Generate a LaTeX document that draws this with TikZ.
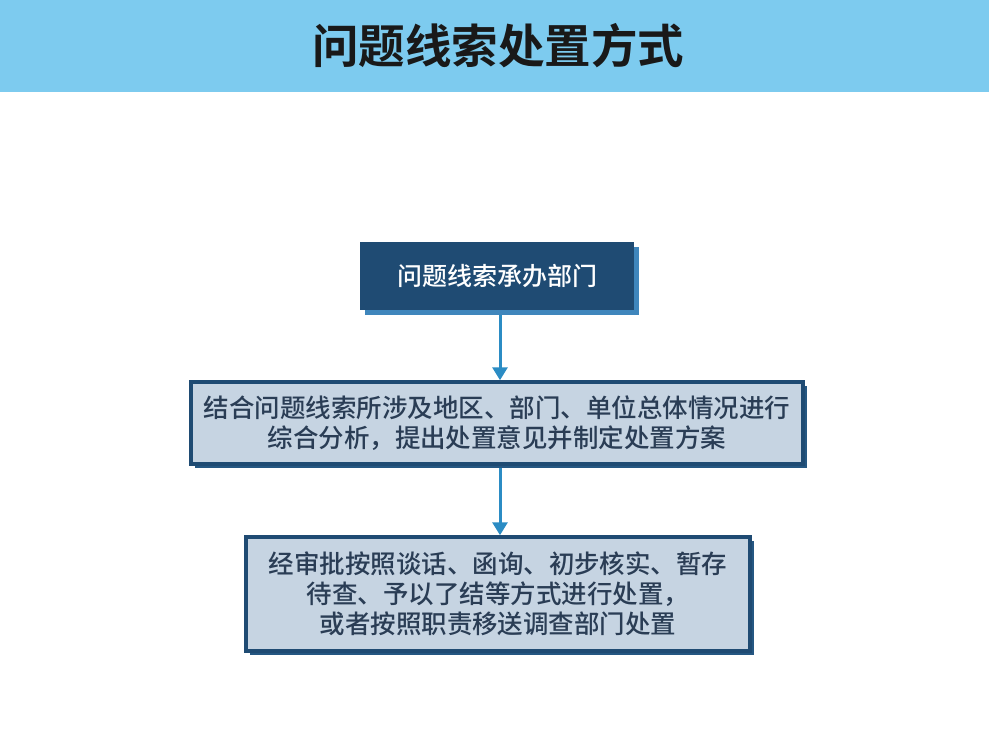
\documentclass[tikz,border=0pt]{standalone}
\usepackage{fontspec}
\setmainfont{Noto Sans CJK SC Medium}
\newfontfamily\cjkbold{Noto Sans CJK SC Bold}
\usetikzlibrary{arrows.meta,shadows}
\definecolor{band}{HTML}{7DCBEF}
\definecolor{darkbox}{HTML}{1F4B73}
\definecolor{lightbox}{HTML}{C6D4E2}
\definecolor{arrowc}{HTML}{2B8CC4}
\definecolor{shadowc}{HTML}{3F86BC}
\definecolor{textc}{HTML}{2A3D55}
\tikzset{
  darknode/.style={draw=none, fill=darkbox, text=white, font=\fontsize{25}{30}\selectfont,
    drop shadow={shadow xshift=5pt, shadow yshift=-5pt, fill=shadowc, opacity=1}},
  lightnode/.style={draw=darkbox, line width=3.5pt, fill=lightbox, text=textc, align=center,
    font=\fontsize{25.5}{30}\selectfont,
    drop shadow={shadow xshift=4pt, shadow yshift=-4pt, fill=darkbox!80!shadowc, opacity=1}},
  flow/.style={draw=arrowc, line width=3pt, -{Triangle[length=13pt,width=15pt]}}
}
\begin{document}
\begin{tikzpicture}[x=1pt,y=-1pt]
\useasboundingbox (0,0) rectangle (989,731);
\fill[white] (0,0) rectangle (989,731);
\fill[band] (0,0) rectangle (989,92);
\node[font=\cjkbold\fontsize{46.5}{52}\selectfont, text=black!90] (title) at (498,46) {问题线索处置方式};
\node[darknode, minimum width=274pt, minimum height=68pt] (b1) at (497,276) {问题线索承办部门};
\node[lightnode, minimum width=612pt, minimum height=82pt] (b2) at (497,423) {结合问题线索所涉及地区、部门、单位总体情况进行\\综合分析，提出处置意见并制定处置方案};
\node[lightnode, minimum width=504pt, minimum height=114pt] (b3) at (498,594) {经审批按照谈话、函询、初步核实、暂存\\待查、予以了结等方式进行处置，\\或者按照职责移送调查部门处置};
\draw[flow] ([yshift=-5pt]b1.south -| 500,0) -- (b2.north -| 500,0);
\draw[flow] ([yshift=-2pt]b2.south -| 500,0) -- (b3.north -| 500,0);
\end{tikzpicture}
\end{document}
